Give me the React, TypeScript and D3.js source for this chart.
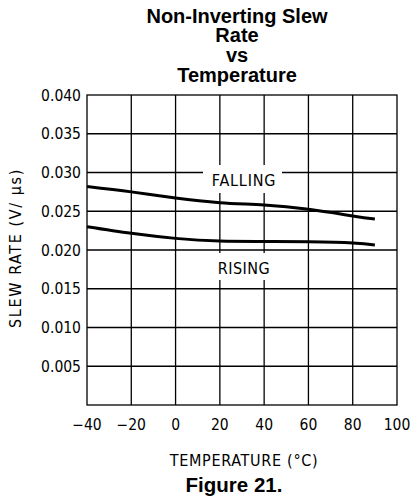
import React, { useEffect, useRef } from 'react';
import * as d3 from 'd3';

const temps = [-40, -20, 0, 20, 40, 60, 80, 90];
const falling = [0.0282, 0.0275, 0.0267, 0.0261, 0.0258, 0.02525, 0.0244, 0.024];
const rising = [0.023, 0.02215, 0.0215, 0.02115, 0.0211, 0.02105, 0.0209, 0.02065];
const xTicks = [-40, -20, 0, 20, 40, 60, 80, 100];
const yTicks = [0.005, 0.01, 0.015, 0.02, 0.025, 0.03, 0.035, 0.04];
const titleLines = ['Non-Inverting Slew', 'Rate', 'vs', 'Temperature'];

const W = 412;
const H = 500;
const FONT = '"DejaVu Sans Condensed", "DejaVu Sans", sans-serif';

const App: React.FC = () => {
  const svgRef = useRef<SVGSVGElement | null>(null);

  useEffect(() => {
    const svg = d3.select(svgRef.current);
    svg.selectAll('*').remove();

    const x = d3.scaleLinear().domain([-40, 100]).range([87, 397]);
    const y = d3.scaleLinear().domain([0, 0.04]).range([405, 95]);

    // title
    svg.append('g')
      .selectAll('text')
      .data(titleLines)
      .enter().append('text')
      .attr('x', 237)
      .attr('y', (_, i) => 22.5 + i * 19.7)
      .attr('text-anchor', 'middle')
      .style('font-family', '"Liberation Sans", Arial, sans-serif')
      .style('font-weight', 'bold')
      .style('font-size', '20px')
      .text((d) => d);

    // grid
    const grid = svg.append('g').attr('stroke', '#000').attr('stroke-width', 1.3);
    grid.selectAll('.v')
      .data(xTicks.slice(1, -1))
      .enter().append('line')
      .attr('x1', (d) => x(d)).attr('x2', (d) => x(d))
      .attr('y1', y(0)).attr('y2', y(0.04));
    grid.selectAll('.h')
      .data(yTicks.slice(0, -1))
      .enter().append('line')
      .attr('x1', x(-40)).attr('x2', x(100))
      .attr('y1', (d) => y(d)).attr('y2', (d) => y(d));
    grid.append('rect')
      .attr('x', x(-40)).attr('y', y(0.04))
      .attr('width', x(100) - x(-40)).attr('height', y(0) - y(0.04))
      .attr('fill', 'none');

    // label boxes
    svg.append('rect').attr('x', 203).attr('y', 165).attr('width', 79).attr('height', 28).attr('fill', '#fff');
    svg.append('rect').attr('x', 205).attr('y', 253).attr('width', 77).attr('height', 27).attr('fill', '#fff');

    // curves
    const line = d3.line<number>()
      .x((_, i) => x(temps[i]))
      .y((d) => y(d))
      .curve(d3.curveNatural);
    [falling, rising].forEach((s) => {
      svg.append('path')
        .attr('d', line(s))
        .attr('fill', 'none')
        .attr('stroke', '#000')
        .attr('stroke-width', 3);
    });

    const txt = (sel: d3.Selection<SVGTextElement, unknown, null, undefined>, size: number) =>
      sel.style('font-family', FONT).style('font-size', size + 'px').attr('fill', '#000');

    txt(svg.append('text').attr('x', 244).attr('y', 185.5).attr('text-anchor', 'middle').style('letter-spacing', '0.8px').text('FALLING'), 16);
    txt(svg.append('text').attr('x', 244).attr('y', 273.5).attr('text-anchor', 'middle').style('letter-spacing', '0.5px').text('RISING'), 16);

    // y tick labels
    svg.append('g').selectAll('text')
      .data(yTicks)
      .enter().append('text')
      .attr('x', 81)
      .attr('y', (d) => y(d) + 5.5)
      .attr('text-anchor', 'end')
      .style('font-family', FONT)
      .style('font-size', '15.5px')
      .text((d) => d.toFixed(3));

    // x tick labels
    svg.append('g').selectAll('text')
      .data(xTicks)
      .enter().append('text')
      .attr('x', (d) => x(d))
      .attr('y', 430)
      .attr('text-anchor', 'middle')
      .style('font-family', FONT)
      .style('font-size', '15.5px')
      .text((d) => (d < 0 ? '\u2212' + Math.abs(d) : String(d)));

    txt(svg.append('text').attr('x', 244).attr('y', 466).attr('text-anchor', 'middle').style('letter-spacing', '0.7px').text('TEMPERATURE (\u00B0C)'), 16);
    txt(svg.append('text')
      .attr('transform', 'translate(21,248) rotate(-90)')
      .attr('text-anchor', 'middle')
      .style('letter-spacing', '1.6px')
      .text('SLEW RATE (V/ \u00B5s)'), 16);

    svg.append('text')
      .attr('x', 234).attr('y', 492)
      .attr('text-anchor', 'middle')
      .style('font-family', '"Liberation Sans", Arial, sans-serif')
      .style('font-weight', 'bold')
      .style('font-size', '20.5px')
      .text('Figure 21.');
  }, []);

  return (
    <svg
      ref={svgRef}
      width={W}
      height={H}
      style={{ position: 'absolute', left: 0, top: 0, background: '#fff' }}
    />
  );
};

export default App;
